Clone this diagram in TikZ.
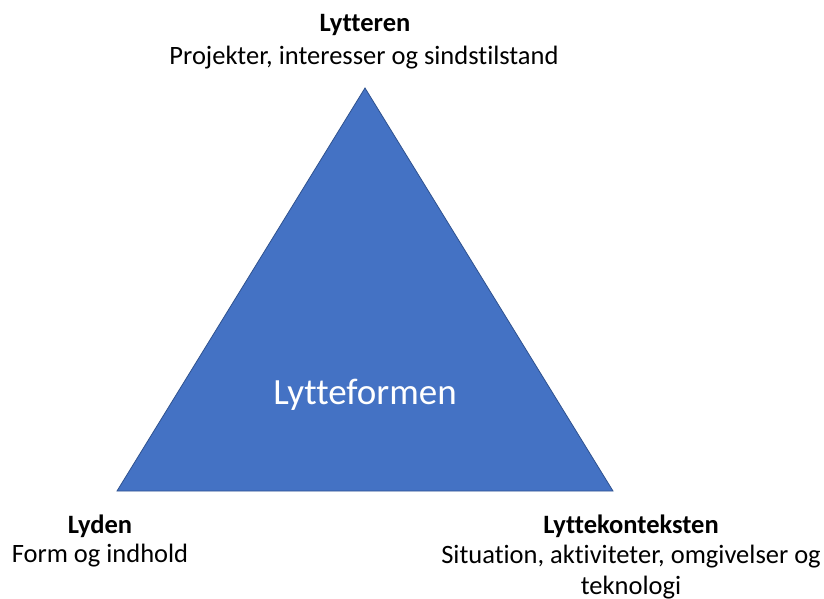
\documentclass[tikz,border=0pt]{standalone}
\usepackage{fontspec}
\setmainfont{Carlito}[Ligatures={NoCommon}]
\definecolor{trifill}{HTML}{4472C4}
\definecolor{triline}{HTML}{2F528F}
\begin{document}
\begin{tikzpicture}[x=1pt,y=-1pt,
  lbl/.style={align=center,font=\fontsize{26.5}{31}\selectfont,inner sep=0pt},
  head/.style={font=\fontsize{26.5}{31}\selectfont\bfseries,inner sep=0pt}]
\useasboundingbox (0,0) rectangle (824,599);
\coordinate (A) at (365,88);
\coordinate (B) at (117,491);
\coordinate (C) at (613,491);
\draw[fill=trifill,draw=triline,line width=0.8pt,line join=miter] (A) -- (B) -- (C) -- cycle;
\node[font=\fontsize{37}{42}\selectfont,text=white,inner sep=0pt] (center) at (365,395) {Lytteformen};
\node[head] (t1) at (365,25) {Lytteren};
\node[lbl] (t2) at (364,58) {Projekter, interesser og sindstilstand};
\node[head] (l1) at (100,526) {Lyden};
\node[lbl] (l2) at (100,556) {Form og indhold};
\node[head] (r1) at (631,526) {Lyttekonteksten};
\node[lbl] (r2) at (631,572) {Situation, aktiviteter, omgivelser og\\teknologi};
\end{tikzpicture}
\end{document}
